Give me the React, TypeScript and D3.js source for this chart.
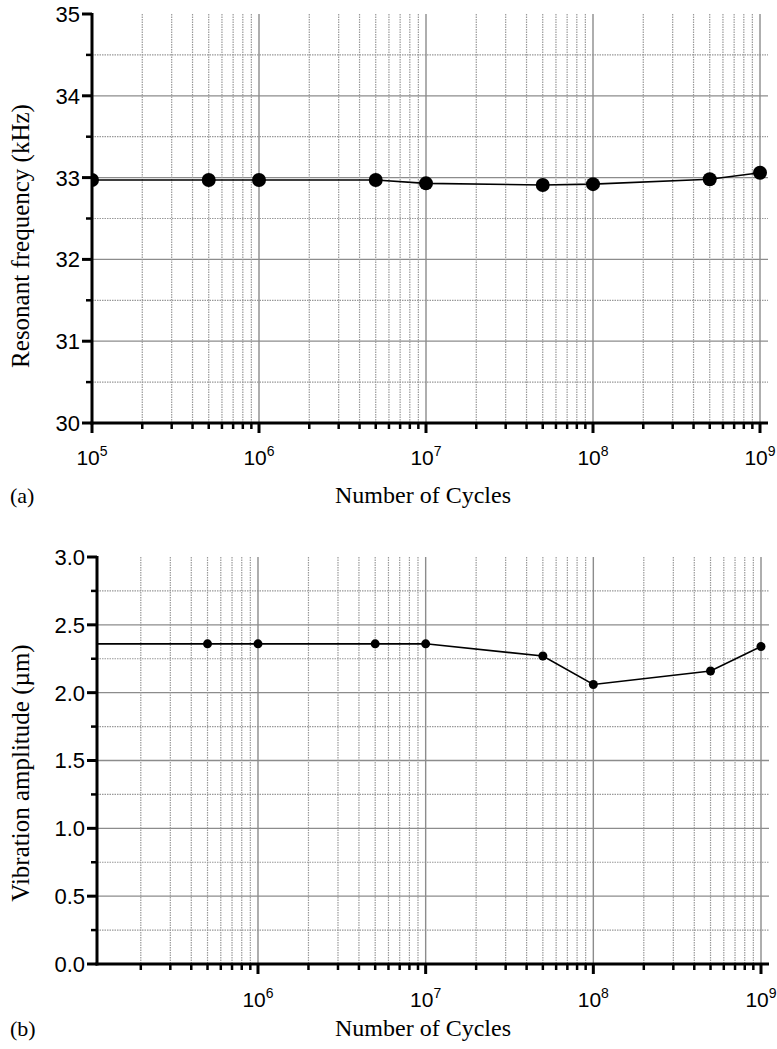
import React from 'react'
import * as d3 from 'd3'

// cycles at which measurements were taken
const cycles = [1e5, 5e5, 1e6, 5e6, 1e7, 5e7, 1e8, 5e8, 1e9]
// panel (a) resonant frequency, kHz
const resonantFreq = [32.97, 32.97, 32.97, 32.97, 32.93, 32.91, 32.92, 32.98, 33.06]
// panel (b) vibration amplitude, um
const vibAmplitude = [2.36, 2.36, 2.36, 2.36, 2.36, 2.27, 2.06, 2.16, 2.34]

const decades = [5, 6, 7, 8, 9]
const freqTicks = [30, 31, 32, 33, 34, 35]
const ampTicks = [0, 0.5, 1.0, 1.5, 2.0, 2.5, 3.0]

const tickFont = '"Liberation Sans", Arial, sans-serif'
const labelFont = '"Liberation Serif", "Times New Roman", serif'

type PanelProps = {
  id: string
  values: number[]
  xMin: number
  x0: number
  x1: number
  yTicks: number[]
  y0: number
  y1: number
  fmt: (v: number) => string
  r: number
  yLabel: string
  yLabelY: number
  tickBase: number
  xLabelBase: number
  tag: string
}

function Panel(p: PanelProps) {
  const x = d3.scaleLog().domain([p.xMin, 1e9]).range([p.x0, p.x1])
  const yExt = d3.extent(p.yTicks) as [number, number]
  const y = d3.scaleLinear().domain(yExt).range([p.y0, p.y1])
  const step = p.yTicks[1] - p.yTicks[0]
  const yMinor = p.yTicks.slice(0, -1).map(t => t + step / 2)

  const xMinor: number[] = []
  decades.slice(0, -1).forEach(d => {
    for (let k = 2; k <= 9; k++) {
      const v = k * Math.pow(10, d)
      if (v >= p.xMin) xMinor.push(v)
    }
  })
  const xMajor = decades.map(d => Math.pow(10, d)).filter(v => v >= p.xMin)

  const pts: [number, number][] = cycles.map((c, i) => [c, p.values[i]])
  const line = d3.line<[number, number]>().x(d => x(d[0])).y(d => y(d[1]))
  const gridRight = p.x1 + 8

  return (
    <g>
      <defs>
        <clipPath id={'clip-' + p.id}>
          <rect x={p.x0} y={p.y1 - 10} width={p.x1 - p.x0 + 20} height={p.y0 - p.y1 + 20} />
        </clipPath>
      </defs>
      {/* grid */}
      {yMinor.map(t => (
        <line key={'hm' + t} x1={p.x0} x2={gridRight} y1={y(t)} y2={y(t)} stroke="#999" strokeWidth={1.2} strokeDasharray="1.5,1" />
      ))}
      {p.yTicks.slice(1, -1).map(t => (
        <line key={'hM' + t} x1={p.x0} x2={gridRight} y1={y(t)} y2={y(t)} stroke="#8c8c8c" strokeWidth={1.3} />
      ))}
      {xMinor.map(v => (
        <line key={'vm' + v} x1={x(v)} x2={x(v)} y1={p.y1} y2={p.y0} stroke="#999" strokeWidth={1.2} strokeDasharray="1.5,1" />
      ))}
      {xMajor.filter(v => v > p.xMin).map(v => (
        <line key={'vM' + v} x1={x(v)} x2={x(v)} y1={p.y1} y2={p.y0} stroke="#8c8c8c" strokeWidth={1.4} />
      ))}

      {/* data */}
      <g clipPath={`url(#clip-${p.id})`}>
        <path d={line(pts) || ''} fill="none" stroke="#000" strokeWidth={1.6} />
        {pts.map((d, i) => (
          <circle key={i} cx={x(d[0])} cy={y(d[1])} r={p.r} fill="#000" />
        ))}
      </g>

      {/* y axis */}
      <line x1={p.x0} x2={p.x0} y1={p.y1 - 1} y2={p.y0 + 1.5} stroke="#000" strokeWidth={3} />
      {p.yTicks.map(t => (
        <g key={'yt' + t}>
          <line x1={p.x0 - 10} x2={p.x0} y1={y(t)} y2={y(t)} stroke="#000" strokeWidth={3} />
          <text x={p.x0 - 12} y={y(t)} dy="0.36em" textAnchor="end" fontFamily={tickFont} fontSize={22}>{p.fmt(t)}</text>
        </g>
      ))}
      {yMinor.map(t => (
        <line key={'ytm' + t} x1={p.x0 - 6} x2={p.x0} y1={y(t)} y2={y(t)} stroke="#000" strokeWidth={2.5} />
      ))}

      {/* x axis */}
      <line x1={p.x0 - 1.5} x2={p.x1 + 8} y1={p.y0} y2={p.y0} stroke="#000" strokeWidth={3} />
      {xMajor.map(v => (
        <g key={'xt' + v}>
          <line x1={x(v)} x2={x(v)} y1={p.y0} y2={p.y0 + 10} stroke="#000" strokeWidth={3} />
          <text x={x(v)} y={p.tickBase} textAnchor="middle" fontFamily={tickFont} fontSize={21}>
            10<tspan fontSize={14} dy={-9}>{Math.round(Math.log10(v))}</tspan>
          </text>
        </g>
      ))}
      {xMinor.map(v => (
        <line key={'xtm' + v} x1={x(v)} x2={x(v)} y1={p.y0} y2={p.y0 + 6} stroke="#000" strokeWidth={2.5} />
      ))}

      {/* labels */}
      <text transform={`translate(29, ${p.yLabelY}) rotate(-90)`} textAnchor="middle" fontFamily={labelFont} fontSize={25}>{p.yLabel}</text>
      <text x={423} y={p.xLabelBase} textAnchor="middle" fontFamily={labelFont} fontSize={24}>Number of Cycles</text>
      <text x={10} y={p.xLabelBase} fontFamily={labelFont} fontSize={22}>{p.tag}</text>
    </g>
  )
}

export default function App() {
  return (
    <div style={{ position: 'absolute', left: 0, top: 0 }}>
      <svg width={777} height={1049} style={{ display: 'block', background: '#fff' }}>
        <Panel
          id="a"
          values={resonantFreq}
          xMin={1e5}
          x0={92}
          x1={760}
          yTicks={freqTicks}
          y0={423}
          y1={14}
          fmt={v => d3.format('d')(v)}
          r={7}
          yLabel="Resonant frequency (kHz)"
          yLabelY={236}
          tickBase={465}
          xLabelBase={503}
          tag="(a)"
        />
        <Panel
          id="b"
          values={vibAmplitude}
          xMin={1.096e5}
          x0={97}
          x1={761}
          yTicks={ampTicks}
          y0={964}
          y1={557}
          fmt={v => d3.format('.1f')(v)}
          r={4.5}
          yLabel="Vibration amplitude (µm)"
          yLabelY={773}
          tickBase={1007}
          xLabelBase={1036}
          tag="(b)"
        />
      </svg>
    </div>
  )
}
